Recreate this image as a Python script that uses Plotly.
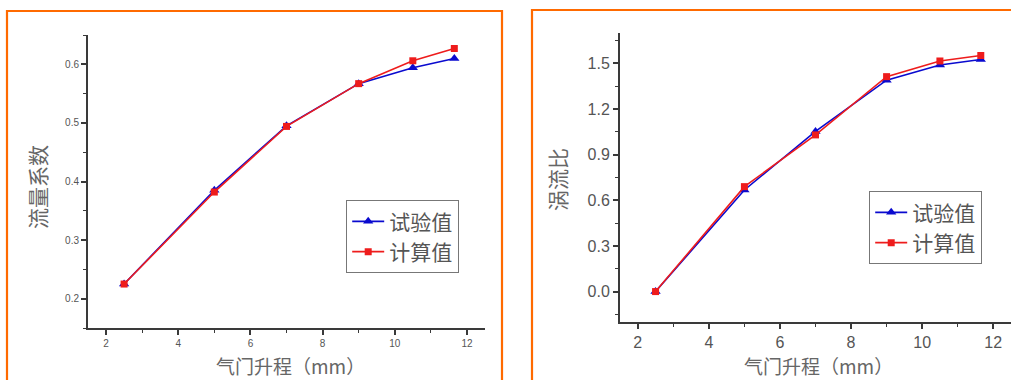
import plotly.graph_objects as go

W, H = 1011, 380

# ---- data ----
lift = [2.5, 5.0, 7.0, 9.0, 10.5, 11.65]
flow_test = [0.225, 0.385, 0.495, 0.567, 0.594, 0.610]
flow_calc = [0.225, 0.382, 0.494, 0.567, 0.606, 0.627]
swirl_test = [0.0, 0.668, 1.053, 1.390, 1.490, 1.526]
swirl_calc = [0.0, 0.690, 1.030, 1.413, 1.516, 1.552]

name_test = "试验值"
name_calc = "计算值"
xtitle = "气门升程（mm）"
ytitle_left = "流量系数"
ytitle_right = "涡流比"

BLUE = "#0A0ACF"
RED = "#EE1C1C"
ORANGE = "#FF6A00"
AX = "#3a3a3a"
TXT = "#555555"
CJK = "Noto Sans CJK SC"
LAT = "Liberation Sans, Arial"

def px(x):
    return x / W

def py(y):
    return 1 - y / H

fig = go.Figure()

def add_pair(xa, ya, ytest, ycalc, legend):
    fig.add_trace(go.Scatter(x=lift, y=ytest, mode="lines+markers", name=name_test,
                             xaxis=xa, yaxis=ya, legend=legend,
                             line=dict(color=BLUE, width=1.6),
                             marker=dict(symbol="triangle-up", size=9, color=BLUE)))
    fig.add_trace(go.Scatter(x=lift, y=ycalc, mode="lines+markers", name=name_calc,
                             xaxis=xa, yaxis=ya, legend=legend,
                             line=dict(color=RED, width=1.6),
                             marker=dict(symbol="square", size=7, color=RED)))

add_pair("x", "y", flow_test, flow_calc, "legend")
add_pair("x2", "y2", swirl_test, swirl_calc, "legend2")

def xaxis(domain, anchor, fs):
    return dict(domain=domain, anchor=anchor, range=[1.5, 12.5], tickvals=[2, 4, 6, 8, 10, 12],
                showline=True, linecolor=AX, linewidth=2, ticks="outside", ticklen=5,
                tickwidth=1.5, tickcolor=AX, showgrid=False, zeroline=False,
                minor=dict(dtick=1, tick0=1, ticks="outside", ticklen=3, tickcolor=AX, tickwidth=1.2),
                tickfont=dict(family=LAT, size=fs, color=TXT), fixedrange=True)

def yaxis(domain, anchor, rng, dtick, fmt, fs, t0):
    return dict(domain=domain, anchor=anchor, range=rng, dtick=dtick, tick0=t0, tickformat=fmt,
                showline=True, linecolor=AX, linewidth=2, ticks="outside", ticklen=5,
                tickwidth=1.5, tickcolor=AX, showgrid=False, zeroline=False,
                minor=dict(dtick=dtick / 2, tick0=t0, ticks="outside", ticklen=3, tickcolor=AX, tickwidth=1.2),
                tickfont=dict(family=LAT, size=fs, color=TXT), fixedrange=True)

fig.update_layout(
    width=W, height=H,
    margin=dict(l=0, r=0, t=0, b=0),
    paper_bgcolor="white", plot_bgcolor="rgba(0,0,0,0)",
    showlegend=True,
    xaxis=xaxis([px(88), px(485)], "y", 10),
    yaxis=yaxis([py(328), py(35)], "x", [0.15, 0.65], 0.1, ".1f", 10, 0.2),
    xaxis2=xaxis([px(620), px(1011)], "y2", 16),
    yaxis2=yaxis([py(322), py(33)], "x2", [-0.2, 1.7], 0.3, ".1f", 16, 0.0),
    legend=dict(x=px(346), y=py(200), xanchor="left", yanchor="top",
                bordercolor="#777777", borderwidth=1.2, bgcolor="white",
                font=dict(family=CJK, size=21, color=TXT), itemwidth=32,
                tracegroupgap=0),
    legend2=dict(x=px(869), y=py(191), xanchor="left", yanchor="top",
                 bordercolor="#777777", borderwidth=1.2, bgcolor="white",
                 font=dict(family=CJK, size=21, color=TXT), itemwidth=32,
                 tracegroupgap=0),
)

# orange panel frames
fig.add_shape(type="rect", xref="paper", yref="paper", x0=px(7), x1=px(502), y0=-0.05, y1=py(11),
              line=dict(color=ORANGE, width=2.2), layer="below")
fig.add_shape(type="rect", xref="paper", yref="paper", x0=px(532), x1=1.05, y0=-0.05, y1=py(10),
              line=dict(color=ORANGE, width=2.2), layer="below")

# axis titles
def ann(x, y, text, size, angle=0):
    fig.add_annotation(x=px(x), y=py(y), xref="paper", yref="paper", text=text, showarrow=False,
                       textangle=angle, xanchor="center", yanchor="middle",
                       font=dict(family=CJK, size=size, color="#666666"))

ann(37, 187, ytitle_left, 21, -90)
ann(290, 365, xtitle, 19)
ann(557, 180, ytitle_right, 21, -90)
ann(818, 365, xtitle, 19)

fig.write_html("out.html", config=dict(displayModeBar=False))
